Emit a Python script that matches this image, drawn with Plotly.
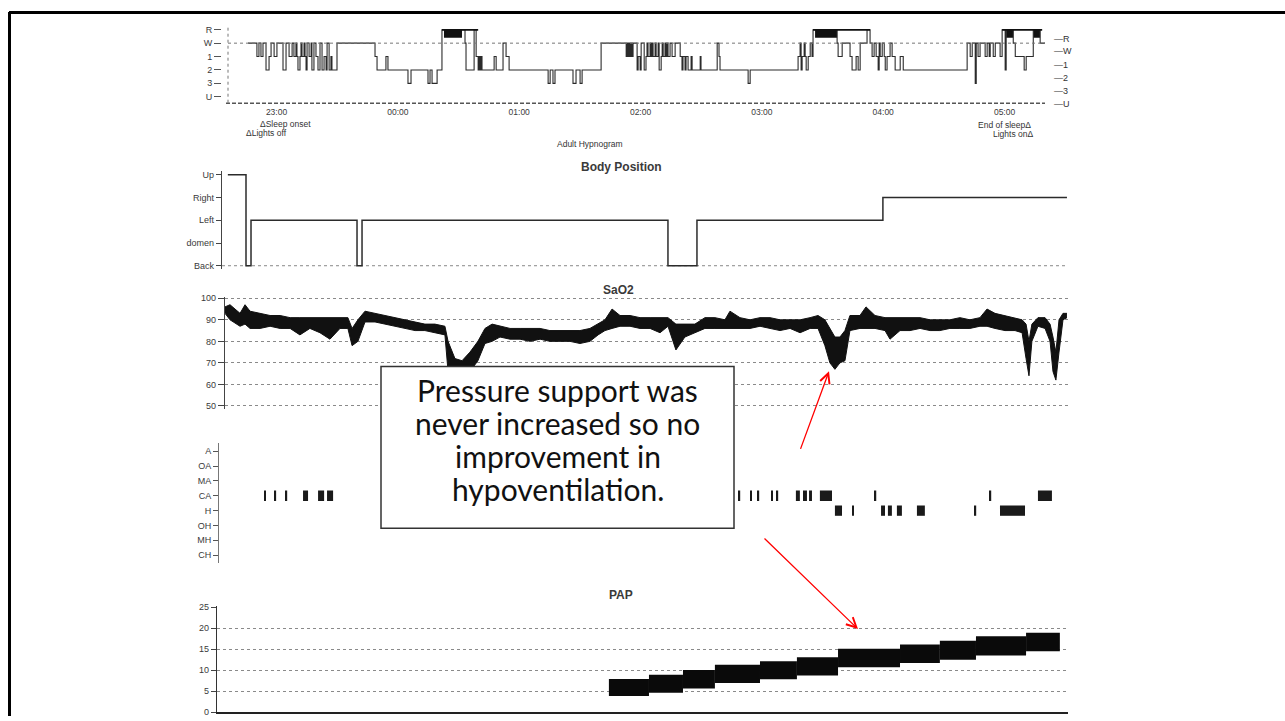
import plotly.graph_objects as go

# ---------------- data (read from the scanned report) ----------------
# time axis: minutes after 22:36 (start of recording)
hyp_tick_min = [24, 84, 144, 204, 264, 324, 384]
hyp_tick_text = ["23:00", "00:00", "01:00", "02:00", "03:00", "04:00", "05:00"]
stage_labels = ["U", "3", "2", "1", "W", "R"]

hyp_time = [9.9, 14.3, 15.3, 16.3, 17.3, 18.8, 20.3, 21.3, 22.8, 24.2, 27.2, 28.7, 30.2, 31.7,
            32.6, 33.6, 34.1, 34.6, 35.6, 36.1, 36.6, 37.6, 38.1, 38.6, 39.1, 40.1, 41.1, 41.5,
            42.5, 43.5, 44.5, 45.5, 46.5, 47.5, 48.5, 49.0, 50.0, 50.9, 51.4, 53.9, 72.7, 73.7,
            78.1, 79.1, 89.0, 90.5, 98.9, 99.9, 100.9, 103.4, 105.8, 117.2, 117.7, 121.7, 122.7,
            123.7, 124.1, 124.6, 125.1, 125.6, 131.6, 132.6, 136.0, 137.5, 139.0, 158.3, 159.3,
            160.7, 161.7, 170.6, 172.1, 174.1, 175.1, 184.5, 196.9, 197.3, 197.8, 198.3, 198.8,
            199.3, 199.8, 200.3, 202.3, 202.8, 203.8, 204.3, 205.8, 206.7, 207.2, 207.7, 208.7,
            209.2, 209.7, 210.2, 211.2, 211.7, 212.7, 213.2, 214.2, 214.7, 215.2, 216.1, 216.6,
            217.1, 217.6, 218.6, 219.6, 221.1, 223.6, 224.5, 225.0, 226.0, 226.5, 227.5, 229.0,
            229.5, 233.5, 233.9, 241.9, 242.8, 243.3, 257.2, 258.2, 281.9, 282.9, 283.4, 283.9,
            284.9, 285.4, 285.9, 286.9, 287.9, 288.8, 289.3, 301.2, 301.7, 303.7, 307.6, 308.6,
            310.6, 311.6, 312.6, 316.0, 317.5, 318.5, 319.5, 320.5, 321.5, 322.0, 322.5, 323.5,
            324.5, 325.0, 325.9, 327.4, 328.4, 329.9, 332.4, 333.9, 365.5, 367.0, 368.0, 369.5,
            370.0, 370.9, 371.9, 374.4, 375.4, 376.4, 376.9, 378.4, 379.4, 381.8, 382.8, 384.3,
            384.8, 388.3, 389.3, 393.7, 394.7, 398.2, 401.6, 404.1]
hyp_stage = ["W", "1", "W", "1", "W", "2", "1", "W", "1", "W", "2", "W", "1", "W",
             "1", "W", "1", "2", "1", "W", "1", "W", "1", "2", "W", "1", "W", "2",
             "W", "1", "2", "W", "2", "1", "2", "W", "2", "1", "2", "W", "1", "2",
             "1", "2", "3", "2", "3", "2", "3", "2", "R", "W", "2", "R", "1",
             "2", "1", "2", "1", "2", "1", "2", "W", "1", "2", "3", "2",
             "3", "2", "3", "2", "3", "2", "W", "1", "W", "1", "W", "1",
             "W", "1", "W", "2", "1", "2", "W", "2", "1", "W", "1", "W",
             "1", "W", "1", "W", "1", "W", "2", "1", "W", "1", "W", "1",
             "W", "1", "W", "1", "W", "1", "2", "1", "2", "1", "2", "1",
             "2", "1", "2", "W", "1", "2", "3", "2", "1", "W", "2", "1",
             "W", "1", "2", "1", "W", "1", "R", "W", "1", "W", "1", "2",
             "1", "2", "W", "R", "W", "1", "W", "1", "2", "W", "1", "W",
             "1", "2", "1", "W", "1", "2", "1", "2", "W", "1", "W", "3",
             "W", "1", "W", "1", "W", "1", "W", "1", "W", "1", "R", "2",
             "R", "W", "1", "2", "1", "R", "W", "W"]

rem_start = [105.8, 289.3, 382.8]
rem_end = [123.7, 317.5, 402.6]
rem_block_start = [106.8, 290.3, 384.8, 398.2]
rem_block_end = [115.7, 301.2, 388.3, 401.6]

body_labels = ["Back", "domen", "Left", "Right", "Up"]
body_time = [1.4, 10.1, 12.5, 63.3, 65.7, 212.3, 226.2, 315.3, 403.5]
body_pos = ["Up", "Back", "Left", "Back", "Left", "Back", "Left", "Right", "Right"]

sao2_time = [0, 2.4, 7.2, 9.6, 12.0, 16.8, 21.6, 26.4, 31.2, 35.9, 40.7, 45.5, 50.3, 55.1,
             58.9, 60.9, 63.7, 67.1, 71.9, 76.7, 81.5, 86.3, 91.1, 95.8, 100.6, 105.4, 106.9,
             110.2, 113.6, 117.4, 121.2, 124.6, 128.0, 131.8, 136.6, 141.4, 146.2, 151.0,
             155.7, 160.5, 165.3, 170.1, 174.9, 178.8, 182.1, 185.5, 189.3, 194.1, 198.9,
             203.7, 208.5, 212.3, 216.1, 220.4, 225.2, 230.0, 234.8, 239.6, 242.0, 246.8,
             251.6, 256.4, 261.2, 266.0, 270.8, 275.6, 280.4, 284.2, 287.5, 289.9, 292.3,
             294.7, 297.1, 299.5, 304.3, 307.2, 311.5, 316.3, 318.7, 323.5, 328.3, 333.1,
             337.9, 342.6, 347.4, 352.2, 357.0, 361.8, 365.2, 369.0, 373.8, 378.6, 382.0,
             383.9, 385.3, 386.7, 389.6, 393.0, 395.4, 396.8, 398.2, 399.7, 401.6, 403.5]
sao2_low = [93, 90, 87, 88, 86, 86, 87, 86, 86, 83, 86, 84, 81, 86,
            86, 78, 80, 89, 89, 88, 87, 86, 85, 85, 84, 83, 66,
            63, 62, 66, 71, 79, 80, 82, 81, 81, 80, 81,
            80, 80, 80, 79, 80, 83, 85, 86, 87, 87, 86,
            86, 84, 87, 76, 82, 84, 86, 86, 86, 86, 86,
            86, 87, 86, 85, 86, 84, 86, 86, 78, 70, 67,
            70, 71, 85, 86, 86, 86, 85, 81, 85, 85, 86,
            85, 85, 86, 86, 86, 87, 87, 86, 85, 85, 84,
            72, 64, 80, 87, 86, 80, 66, 62, 75, 90, 91]
sao2_high = [96, 97, 93, 97, 94, 93, 92, 92, 91, 91, 91, 91, 91, 91,
             91, 86, 90, 94, 93, 92, 91, 90, 89, 88, 88, 87, 80,
             72, 71, 75, 80, 86, 88, 87, 86, 86, 86, 86,
             85, 85, 85, 85, 86, 88, 90, 95, 92, 92, 91,
             91, 91, 91, 88, 88, 88, 91, 91, 90, 94, 91,
             90, 91, 91, 90, 90, 90, 91, 92, 90, 86, 82,
             82, 85, 92, 92, 96, 92, 91, 91, 91, 91, 91,
             90, 90, 90, 91, 90, 91, 95, 93, 92, 91, 90,
             88, 80, 88, 91, 91, 88, 82, 75, 90, 93, 93]

event_labels = ["CH", "MH", "OH", "H", "CA", "MA", "OA", "A"]
ca_start = [18.7, 23.9, 29.2, 37.4, 44.6, 48.9, 246.3, 251.6, 255.4, 261.7, 264.5,
            273.6, 277.0, 279.9, 285.1, 311.5, 366.6, 389.6]
ca_dur = [0.6, 0.6, 0.6, 2.4, 2.9, 2.9, 0.6, 0.6, 0.6, 0.6, 0.6,
          1.9, 1.9, 1.4, 5.8, 0.6, 0.6, 6.7]
h_start = [292.3, 300.5, 314.4, 317.7, 322.0, 331.6, 359.4, 371.4]
h_dur = [3.4, 0.6, 1.9, 1.9, 2.4, 3.8, 0.6, 12.0]

pap_start = [184.0, 203.2, 219.5, 234.8, 256.4, 274.1, 293.8, 323.5, 342.6, 359.9, 383.9]
pap_end = [203.2, 219.5, 234.8, 256.4, 274.1, 293.8, 323.5, 342.6, 359.9, 383.9, 400.1]
pap_low = [3.8, 4.6, 5.6, 6.9, 7.8, 8.7, 10.7, 11.7, 12.5, 13.5, 14.5]
pap_high = [7.9, 8.9, 10.0, 11.3, 12.1, 13.1, 15.1, 16.1, 17.0, 18.1, 18.9]

note_lines = ["Pressure support was", "never increased so no", "improvement in",
              "hypoventilation."]

# ---------------- layout helpers ----------------
W, H = 1285, 721


def fx(px):
    return px / W


def fy(py):
    return 1 - py / H


INK = "#2b2b2b"
GRID = "#8a8a8a"
TICKFONT = dict(family="Liberation Sans", size=9, color="#3a3a3a")

fig = go.Figure()

# Hypnogram
fig.add_trace(go.Scatter(x=hyp_time, y=[stage_labels.index(s) for s in hyp_stage],
                         mode="lines", line=dict(color=INK, width=1.1, shape="hv"),
                         xaxis="x", yaxis="y", hoverinfo="skip"))
rx, ry = [], []
for s, e in zip(rem_start, rem_end):
    rx += [s, e, None]
    ry += [5, 5, None]
fig.add_trace(go.Scatter(x=rx, y=ry, mode="lines", line=dict(color="#111", width=1.8),
                         xaxis="x", yaxis="y", hoverinfo="skip"))
fig.add_trace(go.Bar(x=[(s + e) / 2 for s, e in zip(rem_block_start, rem_block_end)],
                     y=[0.6] * len(rem_block_start), base=4.4,
                     width=[e - s for s, e in zip(rem_block_start, rem_block_end)],
                     marker=dict(color="#111", line=dict(width=0)), xaxis="x", yaxis="y"))

# Body position
fig.add_trace(go.Scatter(x=body_time, y=[body_labels.index(p) for p in body_pos],
                         mode="lines", line=dict(color=INK, width=1.5, shape="hv"),
                         xaxis="x2", yaxis="y2", hoverinfo="skip"))

# SaO2 (envelope of the noisy trace)
fig.add_trace(go.Scatter(x=sao2_time, y=sao2_low, mode="lines",
                         line=dict(color="#111", width=1), xaxis="x3", yaxis="y3"))
fig.add_trace(go.Scatter(x=sao2_time, y=sao2_high, mode="lines", fill="tonexty",
                         fillcolor="#111", line=dict(color="#111", width=1),
                         xaxis="x3", yaxis="y3"))

# Respiratory events
fig.add_trace(go.Bar(y=[event_labels.index("CA")] * len(ca_start), x=ca_dur, base=ca_start,
                     orientation="h", width=0.7, marker=dict(color="#1a1a1a", line=dict(width=0)),
                     xaxis="x4", yaxis="y4"))
fig.add_trace(go.Bar(y=[event_labels.index("H")] * len(h_start), x=h_dur, base=h_start,
                     orientation="h", width=0.7, marker=dict(color="#1a1a1a", line=dict(width=0)),
                     xaxis="x4", yaxis="y4"))

# PAP
fig.add_trace(go.Bar(x=[(s + e) / 2 for s, e in zip(pap_start, pap_end)],
                     y=[h - l for l, h in zip(pap_low, pap_high)], base=pap_low,
                     width=[e - s for s, e in zip(pap_start, pap_end)],
                     marker=dict(color="#0a0a0a", line=dict(width=0)),
                     xaxis="x5", yaxis="y5"))

hidden_x = dict(showticklabels=False, showgrid=False, zeroline=False, showline=False, ticks="")

fig.update_layout(
    width=W, height=H, margin=dict(l=0, r=0, t=0, b=0), autosize=False,
    paper_bgcolor="white", plot_bgcolor="white", showlegend=False, barmode="overlay",
    font=dict(family="Liberation Sans", color="#333"),
    xaxis=dict(domain=[fx(228), fx(1045)], range=[0, 404], anchor="y",
               tickvals=hyp_tick_min, ticktext=hyp_tick_text, ticks="outside", ticklen=1,
               tickcolor="rgba(0,0,0,0)",
               tickfont=dict(family="Liberation Sans", size=8.5, color="#3a3a3a"),
               showgrid=False, zeroline=False, showline=False),
    yaxis=dict(domain=[fy(100), fy(20)], range=[-0.45, 5.45], anchor="free",
               position=fx(221), tickvals=list(range(6)), ticktext=stage_labels,
               ticks="outside", ticklen=7, tickcolor="#555", tickfont=TICKFONT,
               showgrid=False, zeroline=False, showline=False),
    xaxis2=dict(domain=[fx(222), fx(1068)], range=[-1.4, 404], anchor="y2", **hidden_x),
    yaxis2=dict(domain=[fy(268.5), fy(169.5)], range=[-0.15, 4.15], anchor="x2",
                tickvals=list(range(5)), ticktext=body_labels, ticks="outside", ticklen=5,
                tickcolor="#444", tickfont=TICKFONT, showgrid=False, zeroline=False,
                showline=True, linecolor="#444", linewidth=1.3),
    xaxis3=dict(domain=[fx(225), fx(1068)], range=[0, 404], anchor="y3", **hidden_x),
    yaxis3=dict(domain=[fy(410.3), fy(296.9)], range=[48.5, 100.5], anchor="x3",
                tickvals=[50, 60, 70, 80, 90, 100], ticks="outside", ticklen=6,
                tickcolor="#444", tickfont=TICKFONT, showgrid=True, gridcolor=GRID,
                griddash="3px,3px", gridwidth=1, zeroline=False, showline=True,
                linecolor="#444", linewidth=1.3),
    xaxis4=dict(domain=[fx(225), fx(1068)], range=[0, 404], anchor="y4", **hidden_x),
    yaxis4=dict(domain=[fy(566), fy(445)], range=[-0.53, 7.53], anchor="free",
                position=fx(218), tickvals=list(range(8)), ticktext=event_labels,
                ticks="outside", ticklen=5, tickcolor="#555", tickfont=TICKFONT,
                showgrid=False, zeroline=False, showline=True, linecolor="#777",
                linewidth=1),
    xaxis5=dict(domain=[fx(217), fx(1068)], range=[-3.8, 404], anchor="y5",
                showticklabels=False, showgrid=False, zeroline=False, ticks="",
                showline=True, linecolor="#222", linewidth=2),
    yaxis5=dict(domain=[fy(717), fy(610)], range=[0, 25.2], anchor="x5",
                tickvals=[0, 5, 10, 15, 20, 25], ticks="outside", ticklen=5,
                tickcolor="#444", tickfont=TICKFONT, showgrid=True, gridcolor=GRID,
                griddash="3px,3px", gridwidth=1, zeroline=False, showline=True,
                linecolor="#333", linewidth=1.3),
)

shapes = [
    # slide frame
    dict(type="line", xref="paper", yref="paper", x0=fx(9), x1=1, y0=fy(8.5), y1=fy(8.5),
         line=dict(color="#000", width=3)),
    dict(type="line", xref="paper", yref="paper", x0=fx(9.5), x1=fx(9.5), y0=fy(8), y1=0,
         line=dict(color="#000", width=3)),
    # hypnogram frame details
    dict(type="line", xref="paper", yref="paper", x0=fx(228), x1=fx(228), y0=fy(24),
         y1=fy(100), line=dict(color="#777", width=1, dash="dot")),
    dict(type="line", xref="paper", yref="paper", x0=fx(226), x1=fx(1045), y0=fy(100.5),
         y1=fy(100.5), line=dict(color="#555", width=1.3, dash="4px,2px")),
    dict(type="line", xref="x", yref="y", x0=0, x1=404, y0=4, y1=4,
         line=dict(color="#777", width=1, dash="3px,3px")),
    # body position baseline
    dict(type="line", xref="x2", yref="y2", x0=-1.4, x1=404, y0=0, y1=0,
         line=dict(color="#888", width=1, dash="3px,3px"), layer="below"),
    # text box
    dict(type="rect", xref="paper", yref="paper", x0=fx(381), x1=fx(734), y0=fy(531),
         y1=fy(367), fillcolor="white", line=dict(color="#333", width=1.5), layer="above"),
]

ann = []


def label(text, px, py, size=9, xanchor="center", color="#333", bold=False):
    ann.append(dict(text=f"<b>{text}</b>" if bold else text, x=fx(px), y=fy(py),
                    xref="paper", yref="paper", showarrow=False, xanchor=xanchor,
                    yanchor="middle", font=dict(family="Liberation Sans", size=size,
                                                color=color)))


for lab, py in zip(["R", "W", "1", "2", "3", "U"], [35, 48, 62, 75, 88, 101]):
    label("\u2014" + lab, 1052, py, xanchor="left")
label("\u0394Sleep onset", 258, 122, size=8.5, xanchor="left")
label("\u0394Lights off", 244, 131, size=8.5, xanchor="left")
label("Adult Hypnogram", 590, 142, size=8.5)
label("End of sleep\u0394", 1033, 123, size=8.5, xanchor="right")
label("Lights on\u0394", 1035, 132, size=8.5, xanchor="right")
label("Body Position", 621, 165, size=12, bold=True, color="#3a3a3a")
label("SaO2", 618, 290, size=12, bold=True, color="#3a3a3a")
label("PAP", 621, 598, size=12, bold=True, color="#3a3a3a")

for line, py in zip(note_lines, [391, 424, 458, 491]):
    ann.append(dict(text=line, x=fx(557.5), y=fy(py), xref="paper", yref="paper",
                    showarrow=False, xanchor="center", yanchor="middle",
                    font=dict(family="Lato", size=30, color="#111")))

# red arrows
ann.append(dict(text="", x=fx(829), y=fy(372), xref="paper", yref="paper", showarrow=True,
                ax=-29, ay=79, arrowhead=5, arrowsize=1.5, arrowwidth=1.3,
                arrowcolor="#ff0000"))
ann.append(dict(text="", x=fx(858), y=fy(633), xref="paper", yref="paper", showarrow=True,
                ax=-95, ay=-92, arrowhead=5, arrowsize=1.5, arrowwidth=1.3,
                arrowcolor="#ff0000"))

fig.update_layout(shapes=shapes, annotations=ann)
fig.write_html("out.html")
